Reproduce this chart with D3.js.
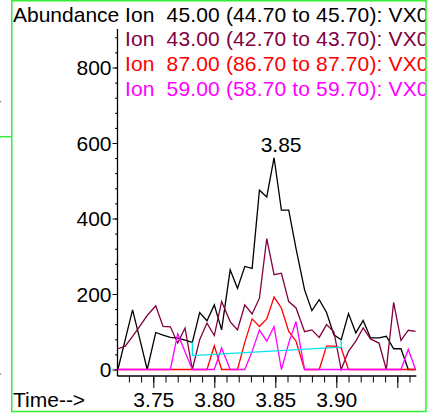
<!DOCTYPE html>
<html>
<head>
<meta charset="utf-8">
<script src="https://cdn.jsdelivr.net/npm/d3@7"></script>
<style>
  body { margin: 0; background: #fff; }
  svg { display: block; }
  text { font-family: "Liberation Sans", Arial, Helvetica, sans-serif; }
</style>
</head>
<body>
<svg id="chart" width="427" height="413"></svg>
<script>
// ---- data ----
const times = [3.721, 3.727, 3.733, 3.739, 3.745, 3.752, 3.758, 3.764, 3.770, 3.776,
               3.782, 3.788, 3.794, 3.800, 3.806, 3.813, 3.819, 3.825, 3.831, 3.837,
               3.843, 3.849, 3.855, 3.861, 3.867, 3.874, 3.880, 3.886, 3.892, 3.898,
               3.904, 3.910, 3.916, 3.922, 3.928, 3.935, 3.941, 3.947, 3.953, 3.959, 3.965];
const ion45 = [0, 79, 158, 80, 0, 98, 91, 85, 83, 78, 72, 151, 129, 171, 105, 264, 215, 273, 268, 475,
               457, 561, 422, 422, 320, 211, 156, 185, 151, 92, 79, 148, 97, 130, 84, 84, 88, 55, 55, 0, 0];
const ion43 = [55, 62, 88, 115, 143, 169, 114, 113, 70, 110, 0, 79, 123, 90, 180, 127, 105, 171, 147, 189,
               347, 251, 255, 180, 163, 100, 105, 85, 119, 100, 0, 48, 75, 110, 81, 70, 0, 178, 77, 104, 101];
const ion87 = [0, 0, 0, 0, 0, 0, 0, 0, 0, 0, 0, 0, 0, 63, 0, 0, 0, 72, 134, 114,
               134, 192, 163, 101, 75, 0, 0, 0, 62, 62, 57, 0, 0, 0, 0, 0, 0, 0, 0, 0, 0];
const ion59 = [0, 0, 0, 0, 0, 0, 0, 0, 95, 47, 0, 0, 0, 0, 57, 0, 0, 0, 48, 105,
               75, 114, 0, 70, 127, 0, 0, 0, 0, 0, 0, 0, 0, 0, 0, 0, 0, 0, 0, 53, 0];
const baselineTimes = [3.782, 3.782, 3.904, 3.904];
const baselineValues = [72, 37, 59, 79];
const legendLabels = ["Ion  45.00 (44.70 to 45.70): VX0",
                      "Ion  43.00 (42.70 to 43.70): VX0",
                      "Ion  87.00 (86.70 to 87.70): VX0",
                      "Ion  59.00 (58.70 to 59.70): VX0"];
const seriesColors = ["#000000", "#800040", "#ff0000", "#ff00ff"];
const yTicks = [0, 200, 400, 600, 800];
const xTicks = [3.75, 3.80, 3.85, 3.90, 3.95];
const xTickLabels = ["3.75", "3.80", "3.85", "3.90", ""];
const peakTime = 3.849, peakLabel = "3.85";

// ---- layout ----
const svg = d3.select("#chart");
const FS = 21;
const x = d3.scaleLinear().domain([3.75, 3.95]).range([153.3, 397.3]);
const y = d3.scaleLinear().domain([0, 800]).range([369.5, 67.5]);
const axisX0 = 117.5, axisYBottom = 376;

// outer frame
svg.append("rect").attr("x", 11.75).attr("y", 0.75).attr("width", 414.25).attr("height", 410.75)
  .attr("fill", "none").attr("stroke", "#33ee33").attr("stroke-width", 1.5);
svg.append("line").attr("x1", 0).attr("x2", 11).attr("y1", 136.7).attr("y2", 136.7)
  .attr("stroke", "#33ee33").attr("stroke-width", 1.5);
svg.append("rect").attr("x", 0).attr("y", 101).attr("width", 1.2).attr("height", 1.2).attr("fill", "#777");
svg.append("rect").attr("x", 0).attr("y", 373.5).attr("width", 1.2).attr("height", 1.2).attr("fill", "#777");

// clip for legend text
svg.append("clipPath").attr("id", "clip").append("rect")
  .attr("x", 12).attr("y", 1).attr("width", 413.3).attr("height", 410);

// y axis
const yAxisG = svg.append("g").attr("transform", `translate(${axisX0},0)`);
yAxisG.call(d3.axisLeft(y).tickValues(d3.range(0, 881, 40)).tickSize(2.5).tickFormat(""))
  .call(g => g.select(".domain").remove());
yAxisG.append("g").call(d3.axisLeft(y).tickValues(yTicks).tickSize(5).tickPadding(1).tickFormat(d3.format("d")))
  .call(g => g.select(".domain").remove())
  .call(g => g.selectAll("text").attr("font-size", FS).attr("fill", "#000")
    .style("font-family", '"Liberation Sans", Arial, sans-serif').attr("dy", "0.34em"));
yAxisG.selectAll("line").attr("stroke", "#000").attr("stroke-width", 1);
svg.append("line").attr("x1", axisX0).attr("x2", axisX0).attr("y1", y(902)).attr("y2", axisYBottom)
  .attr("stroke", "#000").attr("stroke-width", 1.3);

// x axis
const xAxisG = svg.append("g").attr("transform", `translate(0,${axisYBottom})`);
xAxisG.call(d3.axisBottom(x).tickValues(d3.range(3.73, 3.961, 0.01)).tickSize(6.5).tickFormat(""))
  .call(g => g.select(".domain").remove());
xAxisG.append("g").call(d3.axisBottom(x).tickValues(xTicks).tickSize(12)
    .tickFormat((d, i) => xTickLabels[i]))
  .call(g => g.select(".domain").remove())
  .call(g => g.selectAll("text").attr("font-size", FS).attr("fill", "#000")
    .attr("y", 31).attr("dy", null)
    .style("font-family", '"Liberation Sans", Arial, sans-serif'));
xAxisG.selectAll("line").attr("stroke", "#000").attr("stroke-width", 1);
svg.append("line").attr("x1", axisX0).attr("x2", x(3.9656)).attr("y1", axisYBottom).attr("y2", axisYBottom)
  .attr("stroke", "#000").attr("stroke-width", 1.3);

// titles
svg.append("text").attr("x", 13).attr("y", 21.5).attr("font-size", FS).text("Abundance");
svg.append("text").attr("x", 13).attr("y", 406.5).attr("font-size", FS).text("Time-->");

// legend
const leg = svg.append("g").attr("clip-path", "url(#clip)");
legendLabels.forEach((lab, i) => {
  leg.append("text").attr("x", 125).attr("y", 21.5 + i * 24.8).attr("font-size", FS)
    .attr("letter-spacing", 0.15)
    .attr("fill", seriesColors[i]).style("white-space", "pre").attr("xml:space", "preserve").text(lab);
});

// series
const line = d3.line().x(d => x(d[0])).y(d => y(d[1]));
const allSeries = [ion45, ion43, ion87, ion59];
allSeries.forEach((vals, i) => {
  svg.append("path").datum(times.map((t, k) => [t, vals[k]]))
    .attr("d", line).attr("fill", "none").attr("stroke", seriesColors[i])
    .attr("stroke-width", 1.3).attr("stroke-linejoin", "miter");
});
svg.append("path").datum(baselineTimes.map((t, k) => [t, baselineValues[k]]))
  .attr("d", line).attr("fill", "none").attr("stroke", "#00e5ee").attr("stroke-width", 1.3);

// peak label
const pk = ion45[times.indexOf(peakTime)];
svg.append("text").attr("x", x(peakTime) + 7).attr("y", y(pk) - 5.5).attr("font-size", FS)
  .attr("text-anchor", "middle").text(peakLabel);
</script>
</body>
</html>
